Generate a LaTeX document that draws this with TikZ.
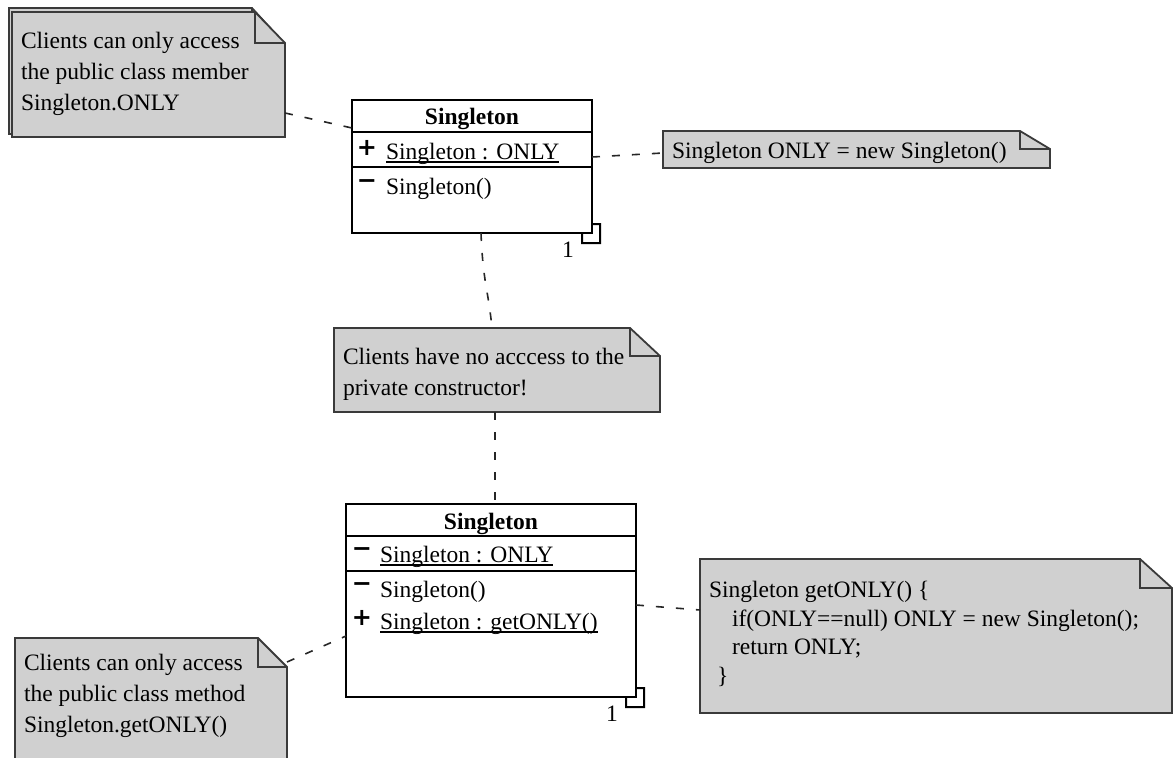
\documentclass[tikz,border=0pt]{standalone}
\usepackage{fontspec}
\setmainfont{Liberation Serif}
\newfontfamily\visfont{DejaVu Sans Bold}
\usetikzlibrary{calc}
\definecolor{notefill}{HTML}{D0D0D0}
\definecolor{noteline}{HTML}{3A3A3A}

% underlined member name, rule sits just below the baseline
\newcommand\ulmember[1]{\setbox0\hbox{#1}\rlap{\rule[-3.5bp]{\wd0}{1.3bp}}\box0}
% visibility markers
\newcommand\pub{{\visfont\fontsize{24bp}{24bp}\selectfont\raisebox{3.5bp}{+}}}
\newcommand\priv{{\visfont\fontsize{24bp}{24bp}\selectfont\raisebox{5.8bp}{−}}}

% UML note outline with a folded top-right corner around node #1
\newcommand\drawnote[3]{%
  \path[notebody] (#1.north west) -- ([xshift=-#2bp]#1.north east)
    -- ([yshift=-#3bp]#1.north east) -- (#1.south east) -- (#1.south west) -- cycle;
  \draw[notefold] ([xshift=-#2bp]#1.north east) |- ([yshift=-#3bp]#1.north east);}

\begin{document}
\begin{tikzpicture}[x=1bp,y=-1bp,
  every node/.style={inner sep=0pt, outer sep=0pt},
  txt/.style={font=\fontsize{23.5bp}{28bp}\selectfont, anchor=base west},
  vis/.style={anchor=base},
  ttl/.style={font=\fontsize{23.5bp}{28bp}\selectfont\bfseries, anchor=base},
  frame/.style={anchor=north west, draw=none},
  classbox/.style={draw=black, line width=2bp, fill=white, anchor=north west},
  notebody/.style={fill=notefill, draw=noteline, line width=1.8bp, line join=miter},
  notefold/.style={draw=noteline, line width=1.8bp},
  sep/.style={draw=black, line width=2bp},
  conn/.style={draw=black!85, line width=1.6bp, dash pattern=on 8bp off 12bp},
]
\useasboundingbox (0,0) rectangle (1175,758);
\clip (0,0) rectangle (1175,758);

% ---------- notes ----------
\node[frame, minimum width=273bp, minimum height=126bp] (n1b) at (9,8) {};
\drawnote{n1b}{30}{33}
\node[frame, minimum width=273bp, minimum height=125bp] (n1) at (12,12) {};
\drawnote{n1}{30}{31}
\node[txt] (n1l1) at (21,49) {Clients can only access};
\node[txt] (n1l2) at (21,80) {the public class member};
\node[txt] (n1l3) at (21,111) {Singleton.ONLY};

\node[frame, minimum width=387bp, minimum height=37bp] (n2) at (663,131) {};
\drawnote{n2}{30}{18}
\node[txt] (n2l1) at (672,158) {Singleton ONLY = new Singleton()};

\node[frame, minimum width=326bp, minimum height=84bp] (n3) at (334,328) {};
\drawnote{n3}{30}{28}
\node[txt] (n3l1) at (343,364) {Clients have no acccess to the};
\node[txt] (n3l2) at (343,395) {private constructor!};

\node[frame, minimum width=472bp, minimum height=154bp] (n4) at (700,559) {};
\drawnote{n4}{32}{29}
\node[txt] (n4l1) at (709,597) {Singleton getONLY() \{};
\node[txt] (n4l2) at (732,626) {if(ONLY==null) ONLY = new Singleton();};
\node[txt] (n4l3) at (732,654) {return ONLY;};
\node[txt] (n4l4) at (717,683) {\}};

\node[frame, minimum width=272bp, minimum height=150bp] (n5) at (15,638) {};
\drawnote{n5}{29}{29}
\node[txt] (n5l1) at (24,670) {Clients can only access};
\node[txt] (n5l2) at (24,701) {the public class method};
\node[txt] (n5l3) at (24,732) {Singleton.getONLY()};

% ---------- class: Singleton (public field) ----------
\node[classbox, minimum width=240bp, minimum height=133bp] (k1) at (352,100) {};
\draw[sep] ([yshift=-32bp]k1.north west) -- ([yshift=-32bp]k1.north east);
\draw[sep] ([yshift=-67bp]k1.north west) -- ([yshift=-67bp]k1.north east);
\node[ttl] (k1t) at ($(k1.north)+(0,24)$) {Singleton};
\node[vis] (k1v1) at (367,159) {\pub};
\node[txt] (k1a1) at (386,159) {\ulmember{Singleton : ONLY}};
\node[vis] (k1v2) at (367,194) {\priv};
\node[txt] (k1o1) at (386,194) {Singleton()};
\draw[sep] ([xshift=-10bp]k1.south east) -- ++(0,10) -- ++(18,0) -- ++(0,-19)
  -- ([yshift=9bp]k1.south east);
\node[txt, anchor=base] (k1m) at ($(k1.south east)+(-24,24)$) {1};

% ---------- class: Singleton (private field, accessor) ----------
\node[classbox, minimum width=290bp, minimum height=193bp] (k2) at (346,504) {};
\draw[sep] ([yshift=-32bp]k2.north west) -- ([yshift=-32bp]k2.north east);
\draw[sep] ([yshift=-67bp]k2.north west) -- ([yshift=-67bp]k2.north east);
\node[ttl] (k2t) at ($(k2.north)+(0,25)$) {Singleton};
\node[vis] (k2v1) at (362,562) {\priv};
\node[txt] (k2a1) at (380,562) {\ulmember{Singleton : ONLY}};
\node[vis] (k2v2) at (362,597) {\priv};
\node[txt] (k2o1) at (380,597) {Singleton()};
\node[vis] (k2v3) at (362,629) {\pub};
\node[txt] (k2o2) at (380,629) {\ulmember{Singleton : getONLY()}};
\draw[sep] ([xshift=-10bp]k2.south east) -- ++(0,10) -- ++(18,0) -- ++(0,-19)
  -- ([yshift=9bp]k2.south east);
\node[txt, anchor=base] (k2m) at ($(k2.south east)+(-24,24)$) {1};

% ---------- note anchors ----------
\coordinate (a1) at ($(n1.north east)+(0,101)$);
\coordinate (b1) at ($(k1.north west)+(0,28)$);
\coordinate (a2) at ($(k1.north east)+(0,57)$);
\coordinate (b2) at ($(n2.north west)+(0,22)$);
\coordinate (a3) at ($(k1.south west)+(129,0)$);
\coordinate (b3) at ($(n3.north west)+(158,0)$);
\coordinate (a4) at ($(n3.south west)+(161,0)$);
\coordinate (b4) at ($(k2.north west)+(149,0)$);
\coordinate (a5) at ($(k2.north east)+(0,101)$);
\coordinate (b5) at ($(n4.north west)+(0,51)$);
\coordinate (a6) at ($(n5.north east)+(0,24)$);
\coordinate (b6) at ($(k2.north west)+(0,132)$);

\draw[conn] (a1) -- (b1);
\draw[conn] (a2) -- (b2);
\draw[conn] (a3) .. controls ($(a3)+(2,50)$) and ($(b3)+(-4,-40)$) .. (b3);
\draw[conn] (a4) -- (b4);
\draw[conn] (a5) -- (b5);
\draw[conn] (a6) -- (b6);
\end{tikzpicture}
\end{document}
